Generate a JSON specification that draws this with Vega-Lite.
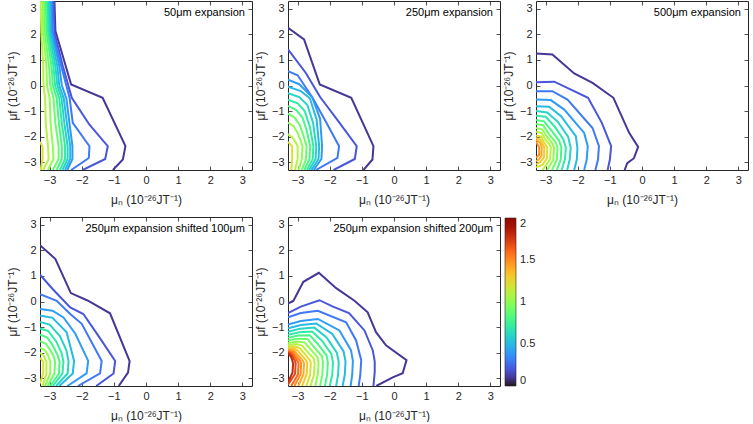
{
"$schema": "https://vega.github.io/schema/vega-lite/v6.json",
"padding": {"left": 5, "top": -1, "right": 0, "bottom": 0},
"datasets": {
"pts": [
{"panel":"a","level":0.1,"i":0,"x":-2.85,"y":3.3},{"panel":"a","level":0.1,"i":1,"x":-2.82,"y":2.13},{"panel":"a","level":0.1,"i":2,"x":-2.33,"y":0.04},{"panel":"a","level":0.1,"i":3,"x":-1.35,"y":-0.48},{"panel":"a","level":0.1,"i":4,"x":-0.64,"y":-2.37},{"panel":"a","level":0.1,"i":5,"x":-0.72,"y":-2.89},{"panel":"a","level":0.1,"i":6,"x":-1.03,"y":-3.3},
{"panel":"a","level":0.2,"i":0,"x":-2.88,"y":3.3},{"panel":"a","level":0.2,"i":1,"x":-2.85,"y":2.06},{"panel":"a","level":0.2,"i":2,"x":-2.59,"y":0.76},{"panel":"a","level":0.2,"i":3,"x":-2.31,"y":-0.48},{"panel":"a","level":0.2,"i":4,"x":-1.76,"y":-1.53},{"panel":"a","level":0.2,"i":5,"x":-1.19,"y":-2.37},{"panel":"a","level":0.2,"i":6,"x":-1.27,"y":-2.87},{"panel":"a","level":0.2,"i":7,"x":-1.97,"y":-3.3},
{"panel":"a","level":0.3,"i":0,"x":-2.92,"y":3.3},{"panel":"a","level":0.3,"i":1,"x":-2.9,"y":2.06},{"panel":"a","level":0.3,"i":2,"x":-2.64,"y":0.76},{"panel":"a","level":0.3,"i":3,"x":-2.38,"y":-0.48},{"panel":"a","level":0.3,"i":4,"x":-2.28,"y":-1.46},{"panel":"a","level":0.3,"i":5,"x":-1.76,"y":-2.37},{"panel":"a","level":0.3,"i":6,"x":-1.78,"y":-2.83},{"panel":"a","level":0.3,"i":7,"x":-2.33,"y":-3.3},
{"panel":"a","level":0.4,"i":0,"x":-2.96,"y":3.3},{"panel":"a","level":0.4,"i":1,"x":-2.94,"y":2.1},{"panel":"a","level":0.4,"i":2,"x":-2.7,"y":0.76},{"panel":"a","level":0.4,"i":3,"x":-2.62,"y":0},{"panel":"a","level":0.4,"i":4,"x":-2.48,"y":-0.5},{"panel":"a","level":0.4,"i":5,"x":-2.38,"y":-1.5},{"panel":"a","level":0.4,"i":6,"x":-2.29,"y":-2.37},{"panel":"a","level":0.4,"i":7,"x":-2.29,"y":-2.87},{"panel":"a","level":0.4,"i":8,"x":-2.45,"y":-3.3},
{"panel":"a","level":0.5,"i":0,"x":-3.0,"y":3.3},{"panel":"a","level":0.5,"i":1,"x":-2.98,"y":2.1},{"panel":"a","level":0.5,"i":2,"x":-2.76,"y":0.76},{"panel":"a","level":0.5,"i":3,"x":-2.7,"y":0},{"panel":"a","level":0.5,"i":4,"x":-2.56,"y":-0.5},{"panel":"a","level":0.5,"i":5,"x":-2.46,"y":-1.5},{"panel":"a","level":0.5,"i":6,"x":-2.36,"y":-2.37},{"panel":"a","level":0.5,"i":7,"x":-2.36,"y":-2.87},{"panel":"a","level":0.5,"i":8,"x":-2.52,"y":-3.3},
{"panel":"a","level":0.6,"i":0,"x":-3.04,"y":3.3},{"panel":"a","level":0.6,"i":1,"x":-3.02,"y":2.1},{"panel":"a","level":0.6,"i":2,"x":-2.82,"y":0.76},{"panel":"a","level":0.6,"i":3,"x":-2.76,"y":0},{"panel":"a","level":0.6,"i":4,"x":-2.63,"y":-0.5},{"panel":"a","level":0.6,"i":5,"x":-2.54,"y":-1.5},{"panel":"a","level":0.6,"i":6,"x":-2.44,"y":-2.37},{"panel":"a","level":0.6,"i":7,"x":-2.44,"y":-2.87},{"panel":"a","level":0.6,"i":8,"x":-2.6,"y":-3.3},
{"panel":"a","level":0.7,"i":0,"x":-3.08,"y":3.3},{"panel":"a","level":0.7,"i":1,"x":-3.06,"y":2.1},{"panel":"a","level":0.7,"i":2,"x":-2.88,"y":0.76},{"panel":"a","level":0.7,"i":3,"x":-2.83,"y":0},{"panel":"a","level":0.7,"i":4,"x":-2.7,"y":-0.5},{"panel":"a","level":0.7,"i":5,"x":-2.62,"y":-1.5},{"panel":"a","level":0.7,"i":6,"x":-2.52,"y":-2.37},{"panel":"a","level":0.7,"i":7,"x":-2.52,"y":-2.87},{"panel":"a","level":0.7,"i":8,"x":-2.68,"y":-3.3},
{"panel":"a","level":0.8,"i":0,"x":-3.12,"y":3.3},{"panel":"a","level":0.8,"i":1,"x":-3.1,"y":2.1},{"panel":"a","level":0.8,"i":2,"x":-2.94,"y":0.76},{"panel":"a","level":0.8,"i":3,"x":-2.9,"y":0},{"panel":"a","level":0.8,"i":4,"x":-2.78,"y":-0.5},{"panel":"a","level":0.8,"i":5,"x":-2.71,"y":-1.5},{"panel":"a","level":0.8,"i":6,"x":-2.62,"y":-2.37},{"panel":"a","level":0.8,"i":7,"x":-2.62,"y":-2.87},{"panel":"a","level":0.8,"i":8,"x":-2.78,"y":-3.3},
{"panel":"a","level":0.9,"i":0,"x":-3.17,"y":3.3},{"panel":"a","level":0.9,"i":1,"x":-3.15,"y":2.1},{"panel":"a","level":0.9,"i":2,"x":-3.02,"y":0.76},{"panel":"a","level":0.9,"i":3,"x":-2.98,"y":0},{"panel":"a","level":0.9,"i":4,"x":-2.88,"y":-0.5},{"panel":"a","level":0.9,"i":5,"x":-2.82,"y":-1.5},{"panel":"a","level":0.9,"i":6,"x":-2.72,"y":-2.37},{"panel":"a","level":0.9,"i":7,"x":-2.72,"y":-2.87},{"panel":"a","level":0.9,"i":8,"x":-2.9,"y":-3.3},
{"panel":"a","level":1.0,"i":0,"x":-3.22,"y":3.3},{"panel":"a","level":1.0,"i":1,"x":-3.2,"y":2.1},{"panel":"a","level":1.0,"i":2,"x":-3.1,"y":0.76},{"panel":"a","level":1.0,"i":3,"x":-3.08,"y":0},{"panel":"a","level":1.0,"i":4,"x":-3.0,"y":-0.5},{"panel":"a","level":1.0,"i":5,"x":-2.97,"y":-1.5},{"panel":"a","level":1.0,"i":6,"x":-2.9,"y":-2.37},{"panel":"a","level":1.0,"i":7,"x":-2.88,"y":-2.87},{"panel":"a","level":1.0,"i":8,"x":-3.05,"y":-3.3},
{"panel":"a","level":1.1,"i":0,"x":-3.28,"y":3.3},{"panel":"a","level":1.1,"i":1,"x":-3.26,"y":2.1},{"panel":"a","level":1.1,"i":2,"x":-3.2,"y":0.76},{"panel":"a","level":1.1,"i":3,"x":-3.19,"y":0},{"panel":"a","level":1.1,"i":4,"x":-3.14,"y":-0.5},{"panel":"a","level":1.1,"i":5,"x":-3.12,"y":-1.5},{"panel":"a","level":1.1,"i":6,"x":-3.05,"y":-2.37},{"panel":"a","level":1.1,"i":7,"x":-3.03,"y":-2.87},{"panel":"a","level":1.1,"i":8,"x":-3.2,"y":-3.3},
{"panel":"a","level":1.2,"i":0,"x":-3.3,"y":-2.2},{"panel":"a","level":1.2,"i":1,"x":-3.22,"y":-2.4},{"panel":"a","level":1.2,"i":2,"x":-3.22,"y":-2.87},{"panel":"a","level":1.2,"i":3,"x":-3.28,"y":-3.3},

{"panel":"b","level":0.1,"i":0,"x":-3.3,"y":2.25},{"panel":"b","level":0.1,"i":1,"x":-2.8,"y":1.8},{"panel":"b","level":0.1,"i":2,"x":-2.31,"y":0.04},{"panel":"b","level":0.1,"i":3,"x":-1.33,"y":-0.48},{"panel":"b","level":0.1,"i":4,"x":-0.64,"y":-2.37},{"panel":"b","level":0.1,"i":5,"x":-0.67,"y":-2.89},{"panel":"b","level":0.1,"i":6,"x":-0.95,"y":-3.3},
{"panel":"b","level":0.2,"i":0,"x":-3.3,"y":1.41},{"panel":"b","level":0.2,"i":1,"x":-2.75,"y":0.5},{"panel":"b","level":0.2,"i":2,"x":-2.3,"y":-0.45},{"panel":"b","level":0.2,"i":3,"x":-1.7,"y":-1.45},{"panel":"b","level":0.2,"i":4,"x":-1.16,"y":-2.37},{"panel":"b","level":0.2,"i":5,"x":-1.22,"y":-2.87},{"panel":"b","level":0.2,"i":6,"x":-1.88,"y":-3.3},
{"panel":"b","level":0.3,"i":0,"x":-3.3,"y":0.56},{"panel":"b","level":0.3,"i":1,"x":-3.0,"y":0.4},{"panel":"b","level":0.3,"i":2,"x":-2.55,"y":-0.45},{"panel":"b","level":0.3,"i":3,"x":-2.15,"y":-1.35},{"panel":"b","level":0.3,"i":4,"x":-1.71,"y":-2.37},{"panel":"b","level":0.3,"i":5,"x":-1.76,"y":-2.83},{"panel":"b","level":0.3,"i":6,"x":-2.43,"y":-3.3},
{"panel":"b","level":0.4,"i":0,"x":-3.3,"y":0.23},{"panel":"b","level":0.4,"i":1,"x":-2.95,"y":0.05},{"panel":"b","level":0.4,"i":2,"x":-2.55,"y":-0.45},{"panel":"b","level":0.4,"i":3,"x":-2.3,"y":-1.3},{"panel":"b","level":0.4,"i":4,"x":-2.24,"y":-2.37},{"panel":"b","level":0.4,"i":5,"x":-2.26,"y":-2.87},{"panel":"b","level":0.4,"i":6,"x":-2.5,"y":-3.3},
{"panel":"b","level":0.5,"i":0,"x":-3.3,"y":-0.05},{"panel":"b","level":0.5,"i":1,"x":-2.9,"y":-0.22},{"panel":"b","level":0.5,"i":2,"x":-2.62,"y":-0.5},{"panel":"b","level":0.5,"i":3,"x":-2.41,"y":-1.33},{"panel":"b","level":0.5,"i":4,"x":-2.33,"y":-2.37},{"panel":"b","level":0.5,"i":5,"x":-2.35,"y":-2.87},{"panel":"b","level":0.5,"i":6,"x":-2.57,"y":-3.3},
{"panel":"b","level":0.6,"i":0,"x":-3.3,"y":-0.3},{"panel":"b","level":0.6,"i":1,"x":-2.95,"y":-0.45},{"panel":"b","level":0.6,"i":2,"x":-2.7,"y":-0.75},{"panel":"b","level":0.6,"i":3,"x":-2.52,"y":-1.45},{"panel":"b","level":0.6,"i":4,"x":-2.42,"y":-2.37},{"panel":"b","level":0.6,"i":5,"x":-2.44,"y":-2.87},{"panel":"b","level":0.6,"i":6,"x":-2.64,"y":-3.3},
{"panel":"b","level":0.7,"i":0,"x":-3.3,"y":-0.55},{"panel":"b","level":0.7,"i":1,"x":-3.0,"y":-0.7},{"panel":"b","level":0.7,"i":2,"x":-2.78,"y":-1.0},{"panel":"b","level":0.7,"i":3,"x":-2.62,"y":-1.6},{"panel":"b","level":0.7,"i":4,"x":-2.51,"y":-2.37},{"panel":"b","level":0.7,"i":5,"x":-2.53,"y":-2.87},{"panel":"b","level":0.7,"i":6,"x":-2.71,"y":-3.3},
{"panel":"b","level":0.8,"i":0,"x":-3.3,"y":-0.8},{"panel":"b","level":0.8,"i":1,"x":-3.05,"y":-0.95},{"panel":"b","level":0.8,"i":2,"x":-2.85,"y":-1.25},{"panel":"b","level":0.8,"i":3,"x":-2.72,"y":-1.75},{"panel":"b","level":0.8,"i":4,"x":-2.61,"y":-2.37},{"panel":"b","level":0.8,"i":5,"x":-2.63,"y":-2.87},{"panel":"b","level":0.8,"i":6,"x":-2.79,"y":-3.3},
{"panel":"b","level":0.9,"i":0,"x":-3.3,"y":-1.1},{"panel":"b","level":0.9,"i":1,"x":-3.1,"y":-1.25},{"panel":"b","level":0.9,"i":2,"x":-2.93,"y":-1.55},{"panel":"b","level":0.9,"i":3,"x":-2.82,"y":-1.95},{"panel":"b","level":0.9,"i":4,"x":-2.72,"y":-2.37},{"panel":"b","level":0.9,"i":5,"x":-2.74,"y":-2.87},{"panel":"b","level":0.9,"i":6,"x":-2.87,"y":-3.3},
{"panel":"b","level":1.0,"i":0,"x":-3.3,"y":-1.45},{"panel":"b","level":1.0,"i":1,"x":-3.12,"y":-1.6},{"panel":"b","level":1.0,"i":2,"x":-3.0,"y":-1.85},{"panel":"b","level":1.0,"i":3,"x":-2.92,"y":-2.1},{"panel":"b","level":1.0,"i":4,"x":-2.85,"y":-2.37},{"panel":"b","level":1.0,"i":5,"x":-2.87,"y":-2.87},{"panel":"b","level":1.0,"i":6,"x":-2.97,"y":-3.3},
{"panel":"b","level":1.1,"i":0,"x":-3.3,"y":-1.9},{"panel":"b","level":1.1,"i":1,"x":-3.15,"y":-2.05},{"panel":"b","level":1.1,"i":2,"x":-3.05,"y":-2.25},{"panel":"b","level":1.1,"i":3,"x":-3.0,"y":-2.37},{"panel":"b","level":1.1,"i":4,"x":-3.0,"y":-2.87},{"panel":"b","level":1.1,"i":5,"x":-3.08,"y":-3.3},
{"panel":"b","level":1.2,"i":0,"x":-3.3,"y":-2.2},{"panel":"b","level":1.2,"i":1,"x":-3.17,"y":-2.37},{"panel":"b","level":1.2,"i":2,"x":-3.17,"y":-2.87},{"panel":"b","level":1.2,"i":3,"x":-3.2,"y":-3.3},

{"panel":"c","level":0.1,"i":0,"x":-3.3,"y":1.25},{"panel":"c","level":0.1,"i":1,"x":-2.79,"y":1.21},{"panel":"c","level":0.1,"i":2,"x":-2.11,"y":0.47},{"panel":"c","level":0.1,"i":3,"x":-1.54,"y":0.1},{"panel":"c","level":0.1,"i":4,"x":-0.89,"y":-0.48},{"panel":"c","level":0.1,"i":5,"x":-0.4,"y":-1.85},{"panel":"c","level":0.1,"i":6,"x":-0.12,"y":-2.4},{"panel":"c","level":0.1,"i":7,"x":-0.25,"y":-2.84},{"panel":"c","level":0.1,"i":8,"x":-0.46,"y":-3.03},{"panel":"c","level":0.1,"i":9,"x":-0.54,"y":-3.3},
{"panel":"c","level":0.2,"i":0,"x":-3.3,"y":0.13},{"panel":"c","level":0.2,"i":1,"x":-2.73,"y":0.15},{"panel":"c","level":0.2,"i":2,"x":-1.68,"y":-0.48},{"panel":"c","level":0.2,"i":3,"x":-1.25,"y":-1.46},{"panel":"c","level":0.2,"i":4,"x":-0.96,"y":-2.37},{"panel":"c","level":0.2,"i":5,"x":-1.0,"y":-2.89},{"panel":"c","level":0.2,"i":6,"x":-1.07,"y":-3.3},
{"panel":"c","level":0.3,"i":0,"x":-3.3,"y":-0.22},{"panel":"c","level":0.3,"i":1,"x":-2.79,"y":-0.22},{"panel":"c","level":0.3,"i":2,"x":-2.32,"y":-0.55},{"panel":"c","level":0.3,"i":3,"x":-1.54,"y":-1.66},{"panel":"c","level":0.3,"i":4,"x":-1.34,"y":-2.37},{"panel":"c","level":0.3,"i":5,"x":-1.37,"y":-2.89},{"panel":"c","level":0.3,"i":6,"x":-1.45,"y":-3.3},
{"panel":"c","level":0.4,"i":0,"x":-3.3,"y":-0.55},{"panel":"c","level":0.4,"i":1,"x":-2.84,"y":-0.57},{"panel":"c","level":0.4,"i":2,"x":-2.42,"y":-0.94},{"panel":"c","level":0.4,"i":3,"x":-1.8,"y":-1.85},{"panel":"c","level":0.4,"i":4,"x":-1.69,"y":-2.37},{"panel":"c","level":0.4,"i":5,"x":-1.72,"y":-2.89},{"panel":"c","level":0.4,"i":6,"x":-1.8,"y":-3.3},
{"panel":"c","level":0.5,"i":0,"x":-3.3,"y":-0.81},{"panel":"c","level":0.5,"i":1,"x":-2.89,"y":-0.83},{"panel":"c","level":0.5,"i":2,"x":-2.52,"y":-1.2},{"panel":"c","level":0.5,"i":3,"x":-2.06,"y":-1.98},{"panel":"c","level":0.5,"i":4,"x":-2.01,"y":-2.44},{"panel":"c","level":0.5,"i":5,"x":-2.03,"y":-2.89},{"panel":"c","level":0.5,"i":6,"x":-2.11,"y":-3.3},
{"panel":"c","level":0.6,"i":0,"x":-3.3,"y":-1.0},{"panel":"c","level":0.6,"i":1,"x":-2.95,"y":-1.05},{"panel":"c","level":0.6,"i":2,"x":-2.62,"y":-1.42},{"panel":"c","level":0.6,"i":3,"x":-2.3,"y":-2.0},{"panel":"c","level":0.6,"i":4,"x":-2.22,"y":-2.42},{"panel":"c","level":0.6,"i":5,"x":-2.25,"y":-2.89},{"panel":"c","level":0.6,"i":6,"x":-2.33,"y":-3.3},
{"panel":"c","level":0.7,"i":0,"x":-3.3,"y":-1.18},{"panel":"c","level":0.7,"i":1,"x":-3.0,"y":-1.22},{"panel":"c","level":0.7,"i":2,"x":-2.72,"y":-1.6},{"panel":"c","level":0.7,"i":3,"x":-2.45,"y":-2.1},{"panel":"c","level":0.7,"i":4,"x":-2.37,"y":-2.42},{"panel":"c","level":0.7,"i":5,"x":-2.4,"y":-2.89},{"panel":"c","level":0.7,"i":6,"x":-2.5,"y":-3.3},
{"panel":"c","level":0.8,"i":0,"x":-3.3,"y":-1.35},{"panel":"c","level":0.8,"i":1,"x":-3.05,"y":-1.4},{"panel":"c","level":0.8,"i":2,"x":-2.82,"y":-1.75},{"panel":"c","level":0.8,"i":3,"x":-2.58,"y":-2.15},{"panel":"c","level":0.8,"i":4,"x":-2.51,"y":-2.42},{"panel":"c","level":0.8,"i":5,"x":-2.53,"y":-2.89},{"panel":"c","level":0.8,"i":6,"x":-2.65,"y":-3.3},
{"panel":"c","level":0.9,"i":0,"x":-3.3,"y":-1.5},{"panel":"c","level":0.9,"i":1,"x":-3.08,"y":-1.55},{"panel":"c","level":0.9,"i":2,"x":-2.9,"y":-1.9},{"panel":"c","level":0.9,"i":3,"x":-2.7,"y":-2.2},{"panel":"c","level":0.9,"i":4,"x":-2.63,"y":-2.42},{"panel":"c","level":0.9,"i":5,"x":-2.65,"y":-2.89},{"panel":"c","level":0.9,"i":6,"x":-2.8,"y":-3.3},
{"panel":"c","level":1.0,"i":0,"x":-3.3,"y":-1.66},{"panel":"c","level":1.0,"i":1,"x":-3.1,"y":-1.72},{"panel":"c","level":1.0,"i":2,"x":-2.96,"y":-2.0},{"panel":"c","level":1.0,"i":3,"x":-2.8,"y":-2.25},{"panel":"c","level":1.0,"i":4,"x":-2.74,"y":-2.42},{"panel":"c","level":1.0,"i":5,"x":-2.76,"y":-2.89},{"panel":"c","level":1.0,"i":6,"x":-2.95,"y":-3.3},
{"panel":"c","level":1.1,"i":0,"x":-3.3,"y":-1.8},{"panel":"c","level":1.1,"i":1,"x":-3.12,"y":-1.86},{"panel":"c","level":1.1,"i":2,"x":-3.02,"y":-2.1},{"panel":"c","level":1.1,"i":3,"x":-2.88,"y":-2.3},{"panel":"c","level":1.1,"i":4,"x":-2.84,"y":-2.42},{"panel":"c","level":1.1,"i":5,"x":-2.86,"y":-2.89},{"panel":"c","level":1.1,"i":6,"x":-3.1,"y":-3.3},
{"panel":"c","level":1.2,"i":0,"x":-3.3,"y":-1.95},{"panel":"c","level":1.2,"i":1,"x":-3.14,"y":-2.0},{"panel":"c","level":1.2,"i":2,"x":-3.06,"y":-2.2},{"panel":"c","level":1.2,"i":3,"x":-2.95,"y":-2.42},{"panel":"c","level":1.2,"i":4,"x":-2.96,"y":-2.85},{"panel":"c","level":1.2,"i":5,"x":-3.1,"y":-3.1},{"panel":"c","level":1.2,"i":6,"x":-3.3,"y":-3.2},
{"panel":"c","level":1.3,"i":0,"x":-3.3,"y":-2.05},{"panel":"c","level":1.3,"i":1,"x":-3.16,"y":-2.12},{"panel":"c","level":1.3,"i":2,"x":-3.04,"y":-2.42},{"panel":"c","level":1.3,"i":3,"x":-3.05,"y":-2.8},{"panel":"c","level":1.3,"i":4,"x":-3.17,"y":-3.0},{"panel":"c","level":1.3,"i":5,"x":-3.3,"y":-3.08},
{"panel":"c","level":1.4,"i":0,"x":-3.3,"y":-2.12},{"panel":"c","level":1.4,"i":1,"x":-3.18,"y":-2.22},{"panel":"c","level":1.4,"i":2,"x":-3.12,"y":-2.42},{"panel":"c","level":1.4,"i":3,"x":-3.13,"y":-2.75},{"panel":"c","level":1.4,"i":4,"x":-3.22,"y":-2.9},{"panel":"c","level":1.4,"i":5,"x":-3.3,"y":-2.95},
{"panel":"c","level":1.5,"i":0,"x":-3.3,"y":-2.2},{"panel":"c","level":1.5,"i":1,"x":-3.2,"y":-2.42},{"panel":"c","level":1.5,"i":2,"x":-3.2,"y":-2.7},{"panel":"c","level":1.5,"i":3,"x":-3.3,"y":-2.82},

{"panel":"d","level":0.1,"i":0,"x":-3.3,"y":2.2},{"panel":"d","level":0.1,"i":1,"x":-2.82,"y":1.66},{"panel":"d","level":0.1,"i":2,"x":-2.34,"y":0.33},{"panel":"d","level":0.1,"i":3,"x":-1.82,"y":0.04},{"panel":"d","level":0.1,"i":4,"x":-1.12,"y":-0.46},{"panel":"d","level":0.1,"i":5,"x":-0.51,"y":-2.33},{"panel":"d","level":0.1,"i":6,"x":-0.56,"y":-2.78},{"panel":"d","level":0.1,"i":7,"x":-0.85,"y":-3.3},
{"panel":"d","level":0.2,"i":0,"x":-3.3,"y":1.05},{"panel":"d","level":0.2,"i":1,"x":-2.9,"y":0.48},{"panel":"d","level":0.2,"i":2,"x":-2.36,"y":-0.23},{"panel":"d","level":0.2,"i":3,"x":-1.95,"y":-0.49},{"panel":"d","level":0.2,"i":4,"x":-1.45,"y":-1.4},{"panel":"d","level":0.2,"i":5,"x":-0.96,"y":-2.32},{"panel":"d","level":0.2,"i":6,"x":-1.01,"y":-2.81},{"panel":"d","level":0.2,"i":7,"x":-1.55,"y":-3.3},
{"panel":"d","level":0.3,"i":0,"x":-3.3,"y":0.29},{"panel":"d","level":0.3,"i":1,"x":-2.78,"y":0.03},{"panel":"d","level":0.3,"i":2,"x":-2.36,"y":-0.49},{"panel":"d","level":0.3,"i":3,"x":-2.0,"y":-0.87},{"panel":"d","level":0.3,"i":4,"x":-1.38,"y":-2.32},{"panel":"d","level":0.3,"i":5,"x":-1.43,"y":-2.81},{"panel":"d","level":0.3,"i":6,"x":-2.12,"y":-3.3},
{"panel":"d","level":0.4,"i":0,"x":-3.3,"y":-0.29},{"panel":"d","level":0.4,"i":1,"x":-2.91,"y":-0.36},{"panel":"d","level":0.4,"i":2,"x":-2.57,"y":-0.62},{"panel":"d","level":0.4,"i":3,"x":-2.2,"y":-1.26},{"panel":"d","level":0.4,"i":4,"x":-1.8,"y":-2.32},{"panel":"d","level":0.4,"i":5,"x":-1.85,"y":-2.81},{"panel":"d","level":0.4,"i":6,"x":-2.45,"y":-3.3},
{"panel":"d","level":0.5,"i":0,"x":-3.3,"y":-0.55},{"panel":"d","level":0.5,"i":1,"x":-2.91,"y":-0.64},{"panel":"d","level":0.5,"i":2,"x":-2.47,"y":-1.2},{"panel":"d","level":0.5,"i":3,"x":-2.24,"y":-2.32},{"panel":"d","level":0.5,"i":4,"x":-2.28,"y":-2.81},{"panel":"d","level":0.5,"i":5,"x":-2.7,"y":-3.3},
{"panel":"d","level":0.6,"i":0,"x":-3.3,"y":-0.8},{"panel":"d","level":0.6,"i":1,"x":-3.0,"y":-0.9},{"panel":"d","level":0.6,"i":2,"x":-2.68,"y":-1.35},{"panel":"d","level":0.6,"i":3,"x":-2.48,"y":-1.9},{"panel":"d","level":0.6,"i":4,"x":-2.41,"y":-2.35},{"panel":"d","level":0.6,"i":5,"x":-2.44,"y":-2.81},{"panel":"d","level":0.6,"i":6,"x":-2.8,"y":-3.3},
{"panel":"d","level":0.7,"i":0,"x":-3.3,"y":-1.05},{"panel":"d","level":0.7,"i":1,"x":-3.05,"y":-1.15},{"panel":"d","level":0.7,"i":2,"x":-2.8,"y":-1.55},{"panel":"d","level":0.7,"i":3,"x":-2.63,"y":-2.0},{"panel":"d","level":0.7,"i":4,"x":-2.57,"y":-2.35},{"panel":"d","level":0.7,"i":5,"x":-2.6,"y":-2.81},{"panel":"d","level":0.7,"i":6,"x":-2.9,"y":-3.3},
{"panel":"d","level":0.8,"i":0,"x":-3.3,"y":-1.3},{"panel":"d","level":0.8,"i":1,"x":-3.08,"y":-1.4},{"panel":"d","level":0.8,"i":2,"x":-2.9,"y":-1.72},{"panel":"d","level":0.8,"i":3,"x":-2.75,"y":-2.1},{"panel":"d","level":0.8,"i":4,"x":-2.69,"y":-2.35},{"panel":"d","level":0.8,"i":5,"x":-2.71,"y":-2.81},{"panel":"d","level":0.8,"i":6,"x":-2.98,"y":-3.3},
{"panel":"d","level":0.9,"i":0,"x":-3.3,"y":-1.55},{"panel":"d","level":0.9,"i":1,"x":-3.12,"y":-1.65},{"panel":"d","level":0.9,"i":2,"x":-2.98,"y":-1.9},{"panel":"d","level":0.9,"i":3,"x":-2.87,"y":-2.15},{"panel":"d","level":0.9,"i":4,"x":-2.83,"y":-2.35},{"panel":"d","level":0.9,"i":5,"x":-2.85,"y":-2.81},{"panel":"d","level":0.9,"i":6,"x":-3.06,"y":-3.3},
{"panel":"d","level":1.0,"i":0,"x":-3.3,"y":-1.8},{"panel":"d","level":1.0,"i":1,"x":-3.15,"y":-1.9},{"panel":"d","level":1.0,"i":2,"x":-3.05,"y":-2.1},{"panel":"d","level":1.0,"i":3,"x":-2.98,"y":-2.35},{"panel":"d","level":1.0,"i":4,"x":-2.98,"y":-2.81},{"panel":"d","level":1.0,"i":5,"x":-3.14,"y":-3.3},
{"panel":"d","level":1.1,"i":0,"x":-3.3,"y":-2.0},{"panel":"d","level":1.1,"i":1,"x":-3.18,"y":-2.12},{"panel":"d","level":1.1,"i":2,"x":-3.1,"y":-2.35},{"panel":"d","level":1.1,"i":3,"x":-3.1,"y":-2.81},{"panel":"d","level":1.1,"i":4,"x":-3.22,"y":-3.3},
{"panel":"d","level":1.2,"i":0,"x":-3.3,"y":-2.2},{"panel":"d","level":1.2,"i":1,"x":-3.2,"y":-2.35},{"panel":"d","level":1.2,"i":2,"x":-3.2,"y":-2.81},{"panel":"d","level":1.2,"i":3,"x":-3.3,"y":-3.2},

{"panel":"e","level":0.1,"i":0,"x":-3.3,"y":-0.08},{"panel":"e","level":0.1,"i":1,"x":-3.13,"y":0.03},{"panel":"e","level":0.1,"i":2,"x":-2.92,"y":0.54},{"panel":"e","level":0.1,"i":3,"x":-2.82,"y":0.77},{"panel":"e","level":0.1,"i":4,"x":-2.34,"y":1.12},{"panel":"e","level":0.1,"i":5,"x":-1.8,"y":0.52},{"panel":"e","level":0.1,"i":6,"x":-1.23,"y":0.03},{"panel":"e","level":0.1,"i":7,"x":-0.82,"y":-0.42},{"panel":"e","level":0.1,"i":8,"x":-0.56,"y":-1.2},{"panel":"e","level":0.1,"i":9,"x":-0.25,"y":-1.71},{"panel":"e","level":0.1,"i":10,"x":0.39,"y":-2.29},{"panel":"e","level":0.1,"i":11,"x":0.27,"y":-2.8},{"panel":"e","level":0.1,"i":12,"x":-0.04,"y":-2.96},{"panel":"e","level":0.1,"i":13,"x":-0.55,"y":-3.3},
{"panel":"e","level":0.2,"i":0,"x":-3.3,"y":-0.45},{"panel":"e","level":0.2,"i":1,"x":-2.9,"y":-0.2},{"panel":"e","level":0.2,"i":2,"x":-2.32,"y":0.05},{"panel":"e","level":0.2,"i":3,"x":-1.9,"y":-0.2},{"panel":"e","level":0.2,"i":4,"x":-1.4,"y":-0.45},{"panel":"e","level":0.2,"i":5,"x":-0.92,"y":-1.13},{"panel":"e","level":0.2,"i":6,"x":-0.66,"y":-1.91},{"panel":"e","level":0.2,"i":7,"x":-0.6,"y":-2.35},{"panel":"e","level":0.2,"i":8,"x":-0.6,"y":-2.75},{"panel":"e","level":0.2,"i":9,"x":-0.64,"y":-3.3},
{"panel":"e","level":0.3,"i":0,"x":-3.3,"y":-0.62},{"panel":"e","level":0.3,"i":1,"x":-2.9,"y":-0.45},{"panel":"e","level":0.3,"i":2,"x":-2.37,"y":-0.36},{"panel":"e","level":0.3,"i":3,"x":-1.49,"y":-0.81},{"panel":"e","level":0.3,"i":4,"x":-1.18,"y":-1.52},{"panel":"e","level":0.3,"i":5,"x":-1.02,"y":-2.29},{"panel":"e","level":0.3,"i":6,"x":-1.05,"y":-2.88},{"panel":"e","level":0.3,"i":7,"x":-1.1,"y":-3.3},
{"panel":"e","level":0.4,"i":0,"x":-3.3,"y":-0.9},{"panel":"e","level":0.4,"i":1,"x":-2.9,"y":-0.76},{"panel":"e","level":0.4,"i":2,"x":-2.37,"y":-0.68},{"panel":"e","level":0.4,"i":3,"x":-1.7,"y":-1.13},{"panel":"e","level":0.4,"i":4,"x":-1.34,"y":-1.9},{"panel":"e","level":0.4,"i":5,"x":-1.28,"y":-2.32},{"panel":"e","level":0.4,"i":6,"x":-1.3,"y":-2.85},{"panel":"e","level":0.4,"i":7,"x":-1.35,"y":-3.3},
{"panel":"e","level":0.5,"i":0,"x":-3.3,"y":-1.05},{"panel":"e","level":0.5,"i":1,"x":-2.9,"y":-0.92},{"panel":"e","level":0.5,"i":2,"x":-2.42,"y":-0.86},{"panel":"e","level":0.5,"i":3,"x":-1.92,"y":-1.27},{"panel":"e","level":0.5,"i":4,"x":-1.57,"y":-1.95},{"panel":"e","level":0.5,"i":5,"x":-1.51,"y":-2.34},{"panel":"e","level":0.5,"i":6,"x":-1.53,"y":-2.85},{"panel":"e","level":0.5,"i":7,"x":-1.6,"y":-3.3},
{"panel":"e","level":0.6,"i":0,"x":-3.3,"y":-1.18},{"panel":"e","level":0.6,"i":1,"x":-2.92,"y":-1.06},{"panel":"e","level":0.6,"i":2,"x":-2.48,"y":-1.02},{"panel":"e","level":0.6,"i":3,"x":-2.1,"y":-1.4},{"panel":"e","level":0.6,"i":4,"x":-1.78,"y":-2.0},{"panel":"e","level":0.6,"i":5,"x":-1.72,"y":-2.36},{"panel":"e","level":0.6,"i":6,"x":-1.74,"y":-2.85},{"panel":"e","level":0.6,"i":7,"x":-1.8,"y":-3.3},
{"panel":"e","level":0.7,"i":0,"x":-3.3,"y":-1.3},{"panel":"e","level":0.7,"i":1,"x":-2.95,"y":-1.2},{"panel":"e","level":0.7,"i":2,"x":-2.55,"y":-1.17},{"panel":"e","level":0.7,"i":3,"x":-2.25,"y":-1.52},{"panel":"e","level":0.7,"i":4,"x":-1.95,"y":-2.05},{"panel":"e","level":0.7,"i":5,"x":-1.9,"y":-2.37},{"panel":"e","level":0.7,"i":6,"x":-1.92,"y":-2.85},{"panel":"e","level":0.7,"i":7,"x":-2.0,"y":-3.3},
{"panel":"e","level":0.8,"i":0,"x":-3.3,"y":-1.42},{"panel":"e","level":0.8,"i":1,"x":-2.98,"y":-1.33},{"panel":"e","level":0.8,"i":2,"x":-2.62,"y":-1.32},{"panel":"e","level":0.8,"i":3,"x":-2.38,"y":-1.65},{"panel":"e","level":0.8,"i":4,"x":-2.1,"y":-2.1},{"panel":"e","level":0.8,"i":5,"x":-2.06,"y":-2.38},{"panel":"e","level":0.8,"i":6,"x":-2.08,"y":-2.85},{"panel":"e","level":0.8,"i":7,"x":-2.15,"y":-3.3},
{"panel":"e","level":0.9,"i":0,"x":-3.3,"y":-1.52},{"panel":"e","level":0.9,"i":1,"x":-3.0,"y":-1.45},{"panel":"e","level":0.9,"i":2,"x":-2.7,"y":-1.46},{"panel":"e","level":0.9,"i":3,"x":-2.5,"y":-1.76},{"panel":"e","level":0.9,"i":4,"x":-2.24,"y":-2.14},{"panel":"e","level":0.9,"i":5,"x":-2.21,"y":-2.39},{"panel":"e","level":0.9,"i":6,"x":-2.23,"y":-2.85},{"panel":"e","level":0.9,"i":7,"x":-2.3,"y":-3.3},
{"panel":"e","level":1.0,"i":0,"x":-3.3,"y":-1.62},{"panel":"e","level":1.0,"i":1,"x":-3.02,"y":-1.56},{"panel":"e","level":1.0,"i":2,"x":-2.78,"y":-1.6},{"panel":"e","level":1.0,"i":3,"x":-2.6,"y":-1.86},{"panel":"e","level":1.0,"i":4,"x":-2.38,"y":-2.18},{"panel":"e","level":1.0,"i":5,"x":-2.35,"y":-2.4},{"panel":"e","level":1.0,"i":6,"x":-2.37,"y":-2.85},{"panel":"e","level":1.0,"i":7,"x":-2.45,"y":-3.3},
{"panel":"e","level":1.1,"i":0,"x":-3.3,"y":-1.7},{"panel":"e","level":1.1,"i":1,"x":-3.05,"y":-1.66},{"panel":"e","level":1.1,"i":2,"x":-2.86,"y":-1.72},{"panel":"e","level":1.1,"i":3,"x":-2.7,"y":-1.96},{"panel":"e","level":1.1,"i":4,"x":-2.5,"y":-2.22},{"panel":"e","level":1.1,"i":5,"x":-2.47,"y":-2.41},{"panel":"e","level":1.1,"i":6,"x":-2.49,"y":-2.85},{"panel":"e","level":1.1,"i":7,"x":-2.6,"y":-3.3},
{"panel":"e","level":1.2,"i":0,"x":-3.3,"y":-1.77},{"panel":"e","level":1.2,"i":1,"x":-3.08,"y":-1.75},{"panel":"e","level":1.2,"i":2,"x":-2.93,"y":-1.83},{"panel":"e","level":1.2,"i":3,"x":-2.62,"y":-2.28},{"panel":"e","level":1.2,"i":4,"x":-2.59,"y":-2.41},{"panel":"e","level":1.2,"i":5,"x":-2.61,"y":-2.85},{"panel":"e","level":1.2,"i":6,"x":-2.73,"y":-3.3},
{"panel":"e","level":1.3,"i":0,"x":-3.3,"y":-1.83},{"panel":"e","level":1.3,"i":1,"x":-3.1,"y":-1.83},{"panel":"e","level":1.3,"i":2,"x":-2.99,"y":-1.93},{"panel":"e","level":1.3,"i":3,"x":-2.73,"y":-2.3},{"panel":"e","level":1.3,"i":4,"x":-2.7,"y":-2.42},{"panel":"e","level":1.3,"i":5,"x":-2.72,"y":-2.85},{"panel":"e","level":1.3,"i":6,"x":-2.86,"y":-3.3},
{"panel":"e","level":1.4,"i":0,"x":-3.3,"y":-1.88},{"panel":"e","level":1.4,"i":1,"x":-3.12,"y":-1.9},{"panel":"e","level":1.4,"i":2,"x":-2.83,"y":-2.32},{"panel":"e","level":1.4,"i":3,"x":-2.8,"y":-2.42},{"panel":"e","level":1.4,"i":4,"x":-2.82,"y":-2.85},{"panel":"e","level":1.4,"i":5,"x":-2.98,"y":-3.3},
{"panel":"e","level":1.5,"i":0,"x":-3.3,"y":-1.92},{"panel":"e","level":1.5,"i":1,"x":-3.14,"y":-1.97},{"panel":"e","level":1.5,"i":2,"x":-2.92,"y":-2.32},{"panel":"e","level":1.5,"i":3,"x":-2.89,"y":-2.42},{"panel":"e","level":1.5,"i":4,"x":-2.91,"y":-2.85},{"panel":"e","level":1.5,"i":5,"x":-3.1,"y":-3.3},
{"panel":"e","level":1.6,"i":0,"x":-3.3,"y":-1.95},{"panel":"e","level":1.6,"i":1,"x":-3.16,"y":-2.03},{"panel":"e","level":1.6,"i":2,"x":-3.0,"y":-2.33},{"panel":"e","level":1.6,"i":3,"x":-2.97,"y":-2.42},{"panel":"e","level":1.6,"i":4,"x":-2.99,"y":-2.85},{"panel":"e","level":1.6,"i":5,"x":-3.2,"y":-3.3},
{"panel":"e","level":1.7,"i":0,"x":-3.3,"y":-1.98},{"panel":"e","level":1.7,"i":1,"x":-3.18,"y":-2.1},{"panel":"e","level":1.7,"i":2,"x":-3.08,"y":-2.33},{"panel":"e","level":1.7,"i":3,"x":-3.06,"y":-2.42},{"panel":"e","level":1.7,"i":4,"x":-3.08,"y":-2.82},{"panel":"e","level":1.7,"i":5,"x":-3.3,"y":-3.25},
{"panel":"e","level":1.8,"i":0,"x":-3.3,"y":-2.01},{"panel":"e","level":1.8,"i":1,"x":-3.2,"y":-2.17},{"panel":"e","level":1.8,"i":2,"x":-3.14,"y":-2.42},{"panel":"e","level":1.8,"i":3,"x":-3.16,"y":-2.78},{"panel":"e","level":1.8,"i":4,"x":-3.3,"y":-3.15},

{"panel":"a","label":"50μm expansion"},
{"panel":"b","label":"250μm expansion"},
{"panel":"c","label":"500μm expansion"},
{"panel":"d","label":"250μm expansion shifted 100μm"},
{"panel":"e","label":"250μm expansion shifted 200μm"}
]
},
"data": {"name": "pts"},
"facet": {"field": "panel", "type": "nominal", "header": {"labels": false, "labelExpr": "''", "labelFontSize": 1, "title": null, "labelPadding": 0, "titlePadding": 0}, "sort": ["a","b","c","d","e"]},
"columns": 3,
"spacing": {"row": 9, "column": 0},
"resolve": {"axis": {"x": "independent", "y": "independent"}},
"spec": {
  "width": 212,
  "height": 169,
  "layer": [
    {
      "transform": [{"filter": "isValid(datum.x)"}],
      "mark": {"type": "line", "strokeWidth": 2, "clip": true},
      "encoding": {
        "x": {"field": "x", "type": "quantitative", "scale": {"domain": [-3.3, 3.3], "nice": false, "zero": false},
              "axis": {"values": [-3,-2,-1,0,1,2,3], "tickCount": 12, "format": "d", "title": "μₙ (10⁻²⁶JT⁻¹)", "labelPadding": 8, "titlePadding": 9, "labelOverlap": false}},
        "y": {"field": "y", "type": "quantitative", "scale": {"domain": [-3.3, 3.3], "nice": false, "zero": false},
              "axis": {"values": [-3,-2,-1,0,1,2,3], "tickCount": 12, "format": "d", "title": "μf (10⁻²⁶JT⁻¹)", "labelPadding": 8, "titlePadding": 4, "labelOverlap": false}},
        "color": {"field": "level", "type": "quantitative", "scale": {"scheme": "turbo", "domain": [0, 2]},
                  "legend": {"orient": "none", "legendX": 465, "legendY": 217, "direction": "vertical", "title": null,
                             "gradientLength": 168, "gradientThickness": 11, "values": [0, 0.5, 1, 1.5, 2], "format": ".1~f",
                             "labelOverlap": false, "labelFontSize": 11, "labelColor": "#262626", "labelOffset": 4,
                             "gradientStrokeColor": "#262626", "gradientStrokeWidth": 0.6, "padding": 0, "offset": 0}},
        "detail": {"field": "level"},
        "order": {"field": "i"}
      }
    },
    {
      "transform": [{"filter": "isValid(datum.label)"}],
      "mark": {"type": "text", "align": "right", "baseline": "middle", "fontSize": 11, "color": "#000000"},
      "encoding": {
        "x": {"datum": 3.08, "type": "quantitative",
              "axis": {"orient": "top", "values": [-3,-2,-1,0,1,2,3], "tickCount": 12, "labels": false, "title": null, "minExtent": 0, "maxExtent": 0, "labelPadding": 0, "offset": 0}},
        "y": {"datum": 2.85, "type": "quantitative",
              "axis": {"orient": "right", "values": [-3,-2,-1,0,1,2,3], "tickCount": 12, "labels": false, "title": null, "minExtent": 0, "maxExtent": 0, "labelPadding": 0, "offset": 0}},
        "text": {"field": "label"}
      }
    }
  ],
  "resolve": {"axis": {"x": "independent", "y": "independent"}}
},
"config": {
  "font": "Liberation Sans",
  "view": {"stroke": "#262626", "strokeWidth": 1},
  "axis": {"grid": false, "domain": false, "tickColor": "#262626", "tickSize": -4, "tickWidth": 0.8,
           "labelFont": "Liberation Sans", "labelFontSize": 11, "labelColor": "#262626",
           "titleFont": "Liberation Sans", "titleFontSize": 12, "titleFontWeight": "normal", "titleColor": "#262626"},
  "legend": {"labelFont": "Liberation Sans"}
}
}
